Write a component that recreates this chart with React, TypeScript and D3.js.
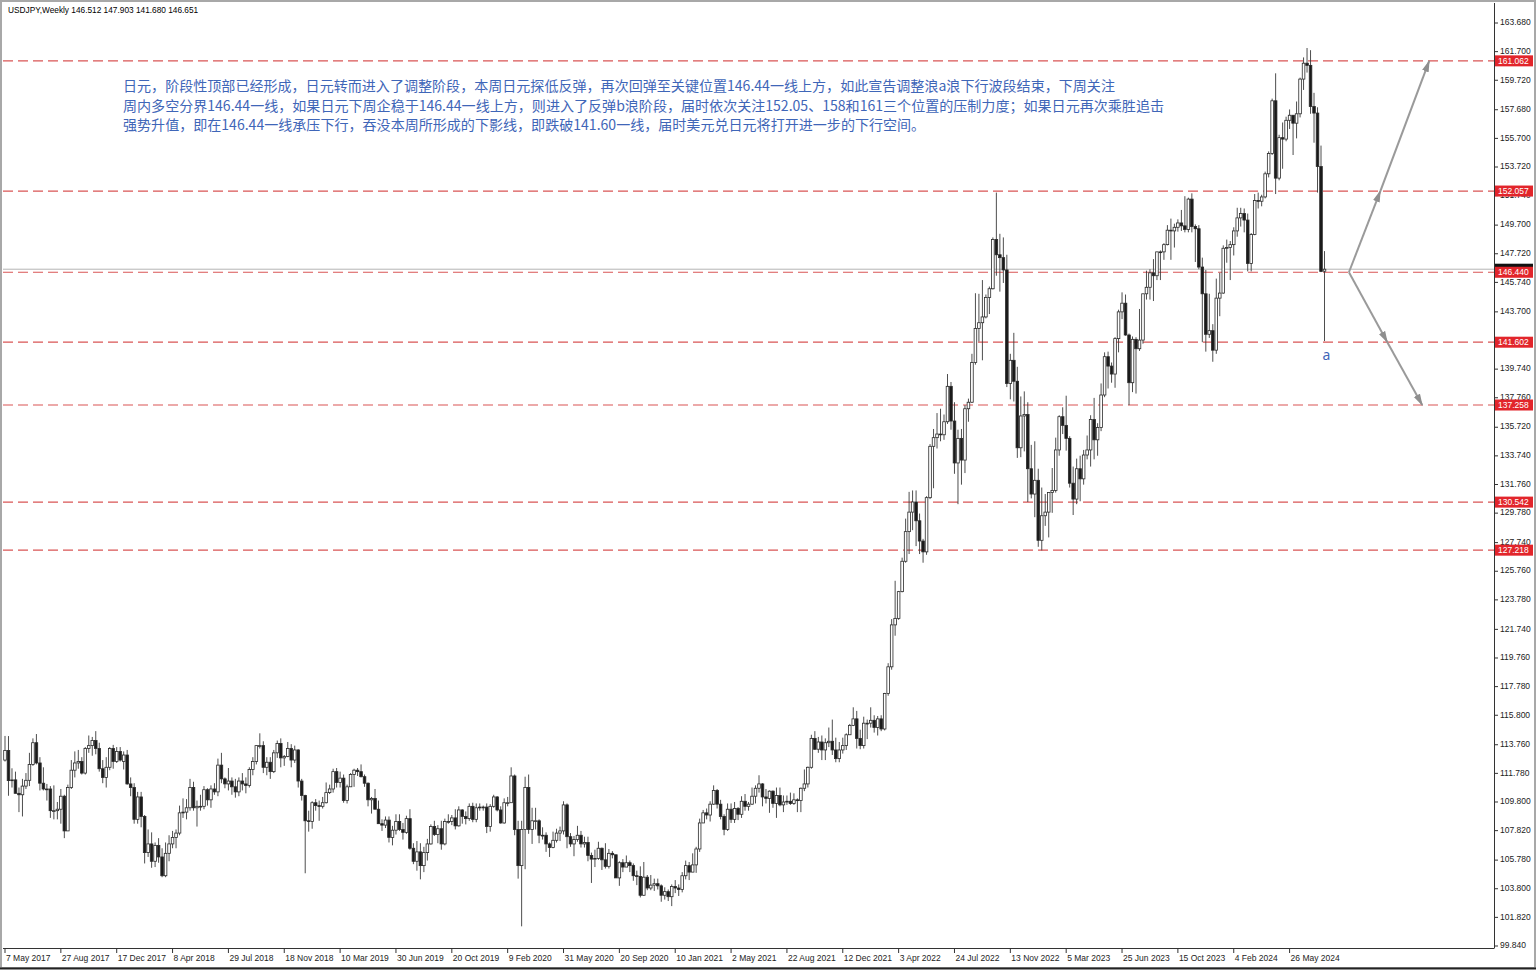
import { useEffect, useRef } from "react";
import * as d3 from "d3";

// weekly USDJPY candles [open, high, low, close], weeks start on Sunday
const w2017 = [
  [112.7, 114.37, 112.6, 113.36], [113.36, 114.36, 110.23, 111.28], [111.28, 112.13, 110.8, 111.33], [111.33, 111.9, 110.4, 110.4],
  [110.4, 110.8, 109.1, 110.3], [110.3, 111.4, 108.8, 110.9], [110.9, 111.8, 110.7, 111.3], [111.3, 113.2, 110.9, 112.4],
  [112.4, 114.2, 112.3, 113.9], [113.9, 114.5, 112.4, 112.5], [112.5, 112.9, 110.6, 111.1], [111.1, 112.2, 110.6, 110.7],
  [110.7, 111.05, 109.9, 110.7], [110.7, 110.9, 108.7, 109.2], [109.2, 110.95, 108.6, 109.2], [109.2, 109.8, 108.6, 109.3],
  [109.3, 110.7, 108.3, 110.2], [110.2, 110.3, 107.3, 107.8], [107.8, 111.0, 107.8, 110.8], [110.8, 112.7, 110.7, 112.0],
  [112.0, 113.3, 111.5, 112.5], [112.5, 113.4, 112.1, 112.6], [112.6, 112.9, 111.7, 111.8], [111.8, 113.6, 111.7, 113.5],
  [113.5, 114.4, 113.2, 113.7], [113.7, 114.3, 113.0, 114.05], [114.05, 114.7, 113.1, 113.5], [113.5, 113.9, 111.9, 112.1],
  [112.1, 112.7, 111.1, 111.5], [111.5, 112.9, 110.8, 112.2], [112.2, 113.6, 112.0, 113.5], [113.5, 113.75, 112.1, 112.6],
  [112.6, 113.6, 112.5, 113.3], [113.3, 113.6, 112.6, 112.7],
];
const w2018 = [
  [112.6, 113.3, 112.05, 113.05], [113.05, 113.4, 111.0, 111.05], [111.05, 111.5, 110.2, 110.8], [110.8, 111.1, 108.3, 108.6],
  [108.6, 110.5, 108.3, 110.15], [110.15, 110.5, 108.05, 108.8], [108.8, 108.9, 105.55, 106.3], [106.3, 107.9, 106.0, 106.9],
  [106.9, 107.7, 105.25, 105.7], [105.7, 107.0, 105.3, 106.8], [106.8, 107.3, 105.6, 106.0], [106.0, 106.6, 104.6, 104.7],
  [104.7, 107.0, 104.6, 106.25], [106.25, 107.5, 105.7, 106.9], [106.9, 107.8, 106.6, 107.35], [107.35, 107.9, 106.6, 107.65],
  [107.65, 109.55, 107.5, 109.05], [109.05, 110.05, 108.7, 109.1], [109.1, 110.0, 108.6, 109.4], [109.4, 111.4, 109.2, 110.8],
  [110.8, 111.2, 109.2, 109.4], [109.4, 109.9, 108.1, 109.5], [109.5, 110.3, 109.2, 109.5], [109.5, 110.9, 109.3, 110.65],
  [110.65, 110.75, 109.55, 109.95], [109.95, 110.95, 109.4, 110.7], [110.7, 111.1, 110.3, 110.5], [110.5, 112.8, 110.2, 112.35],
  [112.35, 113.2, 111.1, 111.4], [111.4, 111.5, 110.75, 111.05], [111.05, 112.15, 110.6, 111.25], [111.25, 111.5, 110.3, 110.85],
  [110.85, 111.4, 110.1, 110.5], [110.5, 111.5, 110.2, 111.25], [111.25, 111.8, 110.6, 111.05], [111.05, 111.5, 110.4, 110.95],
  [110.95, 112.2, 110.8, 112.05], [112.05, 112.9, 111.65, 112.6], [112.6, 113.7, 112.4, 113.7], [113.7, 114.55, 113.5, 113.7],
  [113.7, 114.0, 111.8, 112.2], [112.2, 112.9, 111.65, 112.55], [112.55, 112.9, 111.4, 111.9], [111.9, 113.4, 111.8, 113.2],
  [113.2, 114.05, 112.85, 113.85], [113.85, 114.2, 112.2, 112.85], [112.85, 113.05, 112.3, 112.95], [112.95, 113.95, 112.9, 113.5],
  [113.5, 113.8, 112.2, 112.7], [112.7, 113.7, 112.5, 113.4], [113.4, 113.45, 110.8, 111.25], [111.25, 111.4, 109.9, 110.25],
];
const w2019 = [
  [110.25, 110.3, 104.87, 108.5], [108.5, 109.2, 107.75, 108.45], [108.45, 109.85, 107.95, 109.75], [109.75, 110.0, 109.2, 109.55],
  [109.55, 109.9, 108.5, 109.5], [109.5, 110.15, 109.35, 109.75], [109.75, 111.15, 109.7, 110.45], [110.45, 111.0, 110.35, 110.7],
  [110.7, 112.1, 110.45, 111.9], [111.9, 112.15, 110.8, 111.15], [111.15, 111.9, 110.8, 111.45], [111.45, 111.7, 109.75, 109.9],
  [109.9, 111.0, 109.7, 110.85], [110.85, 111.8, 110.85, 111.7], [111.7, 112.1, 110.85, 112.0], [112.0, 112.15, 111.6, 111.9],
  [111.9, 112.4, 111.5, 111.55], [111.55, 111.7, 110.85, 111.1], [111.1, 111.15, 109.5, 109.95], [109.95, 110.15, 109.0, 110.05],
  [110.05, 110.7, 109.35, 109.3], [109.3, 109.9, 108.3, 108.3], [108.3, 108.6, 107.8, 108.2], [108.2, 108.8, 108.0, 108.55],
  [108.55, 108.8, 107.0, 107.35], [107.35, 108.15, 106.8, 107.85], [107.85, 108.95, 107.55, 108.45], [108.45, 108.95, 107.8, 107.9],
  [107.9, 108.35, 107.2, 107.7], [107.7, 108.85, 107.6, 108.65], [108.65, 109.3, 106.5, 106.6], [106.6, 106.95, 105.5, 105.7],
  [105.7, 107.1, 105.05, 106.35], [106.35, 106.95, 104.45, 105.4], [105.4, 106.7, 104.95, 106.3], [106.3, 107.25, 105.75, 106.9],
  [106.9, 108.25, 106.85, 108.1], [108.1, 108.5, 107.45, 107.55], [107.55, 108.2, 106.95, 107.95], [107.95, 108.5, 106.5, 106.9],
  [106.9, 108.65, 106.8, 108.45], [108.45, 108.95, 108.3, 108.45], [108.45, 108.9, 108.2, 108.7], [108.7, 109.3, 107.9, 108.15],
  [108.15, 109.5, 108.1, 109.25], [109.25, 109.3, 108.3, 108.8], [108.8, 109.15, 108.25, 108.65], [108.65, 109.7, 108.5, 109.5],
  [109.5, 109.75, 108.4, 108.6], [108.6, 109.7, 108.4, 109.4], [109.4, 109.7, 109.2, 109.45], [109.45, 109.55, 109.2, 109.45],
];
const w2020 = [
  [109.45, 109.7, 107.65, 108.1], [108.1, 109.65, 107.75, 109.5], [109.5, 110.3, 109.4, 110.15], [110.15, 110.2, 109.15, 109.25],
  [109.25, 109.5, 108.3, 108.35], [108.35, 110.05, 108.3, 109.75], [109.75, 110.15, 109.5, 109.75], [109.75, 112.2, 109.75, 111.6],
  [111.6, 111.7, 107.5, 107.9], [107.9, 108.5, 104.5, 105.4], [105.4, 108.5, 101.2, 107.9], [107.9, 111.55, 105.15, 110.8],
  [110.8, 111.7, 107.6, 107.9], [107.9, 109.4, 106.9, 108.5], [108.5, 109.4, 107.9, 108.5], [108.5, 108.6, 106.95, 107.5],
  [107.5, 108.05, 107.2, 107.5], [107.5, 107.7, 106.35, 106.9], [106.9, 107.0, 106.0, 106.65], [106.65, 107.75, 106.6, 107.15],
  [107.15, 107.95, 107.0, 107.65], [107.65, 108.1, 107.1, 107.8], [107.8, 109.85, 107.55, 109.6], [109.6, 109.7, 106.6, 107.4],
  [107.4, 107.65, 106.7, 106.9], [106.9, 107.45, 106.05, 107.2], [107.2, 108.15, 107.05, 107.5], [107.5, 107.8, 106.65, 106.9],
  [106.9, 107.4, 106.65, 107.0], [107.0, 107.4, 105.7, 106.1], [106.1, 106.3, 104.2, 105.85], [105.85, 106.5, 105.3, 105.9],
  [105.9, 107.05, 105.8, 106.6], [106.6, 106.65, 105.1, 105.8], [105.8, 106.95, 105.2, 105.35], [105.35, 106.55, 105.2, 106.25],
  [106.25, 106.4, 105.9, 106.15], [106.15, 106.15, 104.55, 104.55], [104.55, 105.7, 104.0, 105.6], [105.6, 105.85, 104.95, 105.3],
  [105.3, 106.1, 105.3, 105.6], [105.6, 105.75, 104.95, 105.4], [105.4, 105.55, 104.35, 104.7], [104.7, 105.05, 104.05, 104.65],
  [104.65, 105.35, 103.2, 103.35], [103.35, 105.65, 103.3, 104.6], [104.6, 104.75, 103.7, 103.85], [103.85, 104.75, 103.7, 104.05],
  [104.05, 104.5, 103.65, 104.15], [104.15, 104.5, 103.75, 104.0], [104.0, 104.1, 102.9, 103.35], [103.35, 103.9, 103.05, 103.6],
  [103.6, 103.75, 102.95, 103.25],
];
const w2021 = [
  [103.25, 104.1, 102.6, 103.95], [103.95, 104.4, 103.5, 103.85], [103.85, 104.1, 103.3, 103.75], [103.75, 104.95, 103.55, 104.7],
  [104.7, 105.75, 104.45, 105.4], [105.4, 105.65, 104.4, 104.95], [104.95, 106.25, 104.95, 105.45], [105.45, 106.7, 104.9, 106.55],
  [106.55, 108.65, 106.35, 108.35], [108.35, 109.25, 108.35, 109.05], [109.05, 109.35, 108.6, 108.9], [108.9, 109.85, 108.45, 109.65],
  [109.65, 110.95, 109.6, 110.6], [110.6, 110.7, 109.35, 109.65], [109.65, 109.95, 108.6, 108.8], [108.8, 108.95, 107.5, 107.9],
  [107.9, 109.7, 107.8, 109.3], [109.3, 109.7, 108.35, 108.6], [108.6, 109.8, 108.35, 109.35], [109.35, 109.45, 108.55, 108.95],
  [108.95, 110.2, 108.7, 109.85], [109.85, 110.35, 109.2, 109.5], [109.5, 109.8, 109.2, 109.65], [109.65, 110.8, 109.6, 110.2],
  [110.2, 110.95, 109.7, 110.75], [110.75, 111.65, 110.45, 111.05], [111.05, 111.1, 109.5, 110.15], [110.15, 110.7, 109.7, 110.05],
  [110.05, 110.6, 109.05, 110.55], [110.55, 110.6, 109.4, 109.7], [109.7, 110.8, 108.7, 110.25], [110.25, 110.8, 109.5, 109.6],
  [109.6, 110.25, 109.1, 109.8], [109.8, 110.25, 109.6, 109.85], [109.85, 110.45, 109.6, 109.7], [109.7, 110.4, 109.6, 109.95],
  [109.95, 110.05, 109.1, 109.9], [109.9, 110.8, 109.1, 110.75], [110.75, 112.05, 110.55, 111.05], [111.05, 112.25, 110.8, 112.2],
  [112.2, 114.45, 112.1, 114.2], [114.2, 114.7, 113.4, 113.45], [113.45, 114.3, 113.2, 113.95], [113.95, 114.4, 112.7, 113.4],
  [113.4, 114.2, 112.7, 113.9], [113.9, 114.95, 113.6, 114.0], [114.0, 115.5, 113.05, 113.4], [113.4, 114.25, 112.55, 112.8],
  [112.8, 113.95, 112.55, 113.4], [113.4, 114.25, 113.15, 113.7], [113.7, 114.55, 113.4, 114.45], [114.45, 115.2, 114.45, 115.1],
];
const w2022 = [
  [115.1, 116.35, 115.05, 115.55], [115.55, 116.1, 113.5, 114.2], [114.2, 114.8, 113.45, 113.7], [113.7, 115.7, 113.5, 115.25],
  [115.25, 115.5, 114.15, 115.25], [115.25, 116.35, 114.95, 115.45], [115.45, 115.8, 114.6, 114.95], [114.95, 115.75, 114.4, 115.55],
  [115.55, 115.8, 114.7, 114.85], [114.85, 117.35, 114.75, 117.3], [117.3, 119.4, 117.15, 119.15], [119.15, 122.45, 118.95, 122.05],
  [122.05, 125.1, 121.3, 122.5], [122.5, 124.4, 122.4, 124.35], [124.35, 126.7, 124.3, 126.45], [126.45, 129.4, 126.35, 128.5],
  [128.5, 131.25, 126.95, 129.85], [129.85, 131.35, 128.6, 130.55], [130.55, 131.35, 127.5, 129.25], [129.25, 129.75, 126.95, 127.85],
  [127.85, 128.0, 126.35, 127.1], [127.1, 130.95, 126.9, 130.85], [130.85, 134.55, 130.75, 134.4], [134.4, 135.6, 131.5, 135.0],
  [135.0, 136.7, 134.25, 135.25], [135.25, 137.0, 134.75, 135.2], [135.2, 136.6, 134.85, 136.1], [136.1, 139.4, 135.95, 138.55],
  [138.55, 138.85, 135.55, 136.15], [136.15, 137.45, 132.5, 133.25], [133.25, 135.55, 130.4, 134.95], [134.95, 135.6, 131.75, 133.45],
  [133.45, 137.25, 132.55, 137.0], [137.0, 137.7, 136.1, 137.45], [137.45, 140.8, 137.4, 140.2], [140.2, 144.99, 140.05, 142.55],
  [142.55, 144.95, 141.65, 142.95], [142.95, 145.9, 140.35, 143.35], [143.35, 144.9, 143.25, 144.7], [144.7, 145.45, 143.55, 145.3],
  [145.3, 148.85, 145.25, 148.7], [148.7, 151.95, 146.2, 147.65], [147.65, 149.1, 145.1, 147.45], [147.45, 148.85, 145.7, 146.6],
  [146.6, 147.65, 138.5, 138.75], [138.75, 140.8, 137.65, 140.35], [140.35, 142.25, 137.5, 138.9], [138.9, 139.9, 133.6, 134.3],
  [134.3, 137.85, 133.65, 136.5], [136.5, 138.2, 134.05, 136.6], [136.6, 137.45, 130.55, 132.85], [132.85, 134.5, 130.8, 131.1],
];
const w2023 = [
  [131.1, 134.75, 129.5, 132.05], [132.05, 132.85, 127.45, 127.9], [127.9, 131.55, 127.2, 129.6], [129.6, 131.1, 128.9, 129.85],
  [129.85, 131.2, 128.1, 131.2], [131.2, 132.9, 129.8, 131.35], [131.35, 135.0, 131.2, 134.15], [134.15, 136.55, 133.75, 136.45],
  [136.45, 137.1, 135.25, 135.85], [135.85, 137.9, 134.1, 134.95], [134.95, 135.1, 131.55, 131.85], [131.85, 133.0, 129.65, 130.75],
  [130.75, 133.55, 130.4, 132.85], [132.85, 133.75, 130.6, 132.15], [132.15, 134.15, 131.75, 133.8], [133.8, 135.15, 133.5, 134.15],
  [134.15, 136.55, 133.0, 136.25], [136.25, 137.75, 133.5, 134.85], [134.85, 136.0, 133.75, 135.7], [135.7, 138.75, 135.45, 137.95],
  [137.95, 140.9, 137.8, 140.6], [140.6, 140.95, 138.4, 139.95], [139.95, 140.2, 138.8, 139.4], [139.4, 141.95, 138.45, 141.85],
  [141.85, 143.85, 140.9, 143.7], [143.7, 145.05, 143.2, 144.3], [144.3, 144.9, 142.05, 142.1], [142.1, 142.2, 137.25, 138.8],
  [138.8, 142.0, 138.15, 141.8], [141.8, 141.95, 138.05, 141.15], [141.15, 143.9, 141.0, 141.75], [141.75, 144.95, 141.5, 144.95],
  [144.95, 146.55, 144.55, 145.4], [145.4, 146.65, 144.55, 146.4], [146.4, 147.35, 144.45, 146.2], [146.2, 147.85, 145.9, 147.85],
  [147.85, 147.95, 145.9, 147.85], [147.85, 148.45, 147.3, 148.35], [148.35, 149.7, 148.3, 149.35], [149.35, 150.15, 147.3, 149.3],
  [149.3, 149.8, 148.15, 149.55], [149.55, 150.1, 149.25, 149.85], [149.85, 150.75, 149.3, 149.65], [149.65, 151.7, 149.2, 149.4],
  [149.4, 151.6, 149.2, 151.5], [151.5, 151.9, 149.2, 149.6], [149.6, 149.75, 147.15, 149.45], [149.45, 149.7, 146.65, 146.8],
  [146.8, 147.45, 141.6, 144.95], [144.95, 146.6, 140.95, 142.15], [142.15, 144.95, 141.9, 142.4], [142.4, 142.85, 140.25, 141.05],
];
const w2024 = [
  [141.05, 146.0, 140.8, 144.65], [144.65, 146.4, 143.4, 145.0], [145.0, 148.3, 144.95, 148.1], [148.1, 148.7, 147.1, 148.15],
  [148.15, 148.6, 145.9, 148.35], [148.35, 149.55, 147.6, 149.3], [149.3, 150.9, 148.9, 150.2], [150.2, 150.9, 149.6, 150.5],
  [150.5, 150.85, 149.2, 150.05], [150.05, 150.5, 146.5, 147.05], [147.05, 149.15, 146.5, 149.05], [149.05, 151.85, 149.0, 151.4],
  [151.4, 151.95, 150.85, 151.35], [151.35, 151.8, 151.0, 151.65], [151.65, 153.4, 151.55, 153.25], [153.25, 154.8, 153.0, 154.65],
  [154.65, 158.45, 154.55, 158.3], [158.3, 160.2, 151.85, 152.95], [152.95, 155.95, 152.8, 155.75], [155.75, 156.8, 153.6, 155.65],
  [155.65, 157.2, 155.5, 156.95], [156.95, 157.7, 156.35, 157.3], [157.3, 157.3, 154.55, 156.75], [156.75, 158.25, 155.7, 157.4],
  [157.4, 159.9, 157.15, 159.8], [159.8, 161.3, 159.05, 160.9], [160.9, 161.95, 160.25, 160.75], [160.75, 161.8, 157.4, 157.9],
  [157.9, 158.85, 155.4, 157.45], [157.45, 157.85, 151.95, 153.75], [153.75, 155.2, 146.45, 146.5], [146.512, 147.903, 141.68, 146.651],
];

const title = "USDJPY,Weekly  146.512 147.903 141.680 146.651";
const noteLines = [
  "日元，阶段性顶部已经形成，日元转而进入了调整阶段，本周日元探低反弹，再次回弹至关键位置146.44一线上方，如此宣告调整浪a浪下行波段结束，下周关注",
  "周内多空分界146.44一线，如果日元下周企稳于146.44一线上方，则进入了反弹b浪阶段，届时依次关注152.05、158和161三个位置的压制力度；如果日元再次乘胜追击",
  "强势升值，即在146.44一线承压下行，吞没本周所形成的下影线，即跌破141.60一线，届时美元兑日元将打开进一步的下行空间。",
];
const levels = [161.062, 152.057, 146.44, 141.602, 137.258, 130.542, 127.218];
const bidPrice = 146.651;
const priceTicks = [
  163.68, 161.7, 159.72, 157.68, 155.7, 153.72, 151.74, 149.7, 147.72, 145.74, 143.7, 141.72, 139.74, 137.76, 135.72, 133.74,
  131.76, 129.78, 127.74, 125.76, 123.78, 121.74, 119.76, 117.78, 115.8, 113.76, 111.78, 109.8, 107.82, 105.78, 103.8, 101.82, 99.84,
];
const dateLabels = [
  "7 May 2017", "27 Aug 2017", "17 Dec 2017", "8 Apr 2018", "29 Jul 2018", "18 Nov 2018", "10 Mar 2019", "30 Jun 2019",
  "20 Oct 2019", "9 Feb 2020", "31 May 2020", "20 Sep 2020", "10 Jan 2021", "2 May 2021", "22 Aug 2021", "12 Dec 2021",
  "3 Apr 2022", "24 Jul 2022", "13 Nov 2022", "5 Mar 2023", "25 Jun 2023", "15 Oct 2023", "4 Feb 2024", "26 May 2024",
];
// projected path: [week index, price]
const arrowUp = [[385, 146.44], [394, 152.057], [408, 161.062]];
const arrowDown = [[385, 146.44], [396, 141.602], [406, 137.258]];
const waveLabel = { week: 378, price: 140.6, text: "a" };

const weekDate = (i: number) => new Date(2017, 4, 7 + 7 * i);

export default function App() {
  const svgRef = useRef<SVGSVGElement>(null);

  useEffect(() => {
    if (!svgRef.current) return;
    const svg = d3.select(svgRef.current);
    svg.selectAll("*").remove();

    const width = 1536;
    const height = 970;
    const plot = { left: 3, right: 1494, top: 3, bottom: 948 };
    const font = "'Liberation Sans', Arial, sans-serif";
    const blue = "#3f66b8";

    const candles = [...w2017, ...w2018, ...w2019, ...w2020, ...w2021, ...w2022, ...w2023, ...w2024].map((d, i) => ({
      date: weekDate(i),
      o: d[0],
      h: d[1],
      l: d[2],
      c: d[3],
    }));

    const x = d3.scaleTime().domain([weekDate(0), weekDate(candles.length - 1)]).range([5, 1324.5]);
    const y = d3.scaleLinear().domain([99.84, 163.68]).range([946, 23]);

    svg.append("rect").attr("width", width).attr("height", height).attr("fill", "#fff");

    // outer frame
    svg.append("rect").attr("x", 1).attr("y", 1).attr("width", width - 2).attr("height", height - 3)
      .attr("fill", "none").attr("stroke", "#a8a8a8").attr("stroke-width", 2);
    svg.append("line").attr("x1", 0).attr("x2", width).attr("y1", 968.5).attr("y2", 968.5)
      .attr("stroke", "#222").attr("stroke-width", 2);

    svg.append("defs").append("clipPath").attr("id", "plotClip").append("rect")
      .attr("x", plot.left).attr("y", plot.top)
      .attr("width", plot.right - plot.left).attr("height", plot.bottom - plot.top);

    const g = svg.append("g").attr("clip-path", "url(#plotClip)");

    // bid line
    g.append("line").attr("x1", plot.left).attr("x2", plot.right)
      .attr("y1", y(bidPrice)).attr("y2", y(bidPrice))
      .attr("stroke", "#b5b5b5").attr("stroke-width", 1);

    // level lines
    g.selectAll(".level").data(levels).enter().append("line")
      .attr("x1", plot.left).attr("x2", plot.right)
      .attr("y1", (d) => y(d)).attr("y2", (d) => y(d))
      .attr("stroke", "#d95555").attr("stroke-width", 1.2).attr("stroke-dasharray", "10,5");

    // candles
    const bw = 2.6;
    const cg = g.append("g");
    cg.selectAll(".wick").data(candles).enter().append("line")
      .attr("x1", (d) => x(d.date)).attr("x2", (d) => x(d.date))
      .attr("y1", (d) => y(Math.max(d.h, d.o, d.c))).attr("y2", (d) => y(Math.min(d.l, d.o, d.c)))
      .attr("stroke", "#3a3a3a").attr("stroke-width", 0.9);
    cg.selectAll(".body").data(candles).enter().append("rect")
      .attr("x", (d) => x(d.date) - bw / 2)
      .attr("y", (d) => y(Math.max(d.o, d.c)))
      .attr("width", bw)
      .attr("height", (d) => Math.max(0.8, Math.abs(y(d.o) - y(d.c))))
      .attr("fill", (d) => (d.c >= d.o ? "#fff" : "#1a1a1a"))
      .attr("stroke", "#2a2a2a").attr("stroke-width", 0.8);

    // projection arrows
    const marker = svg.select("defs").append("marker").attr("id", "arrowHead")
      .attr("viewBox", "0 0 12 8").attr("refX", 11).attr("refY", 4)
      .attr("markerWidth", 12).attr("markerHeight", 8).attr("markerUnits", "userSpaceOnUse")
      .attr("orient", "auto");
    marker.append("path").attr("d", "M0,0.5 L12,4 L0,7.5 Z").attr("fill", "#8e8e8e");

    [arrowUp, arrowDown].forEach((path) => {
      for (let k = 0; k < path.length - 1; k++) {
        g.append("line")
          .attr("x1", x(weekDate(path[k][0]))).attr("y1", y(path[k][1]))
          .attr("x2", x(weekDate(path[k + 1][0]))).attr("y2", y(path[k + 1][1]))
          .attr("stroke", "#9a9a9a").attr("stroke-width", 2)
          .attr("marker-end", "url(#arrowHead)");
      }
    });

    // wave label
    g.append("text").attr("x", x(weekDate(waveLabel.week)) + 2).attr("y", y(waveLabel.price))
      .attr("text-anchor", "middle").attr("dominant-baseline", "middle")
      .attr("font-family", "'Noto Sans', sans-serif").attr("font-size", 14).attr("fill", blue)
      .text(waveLabel.text);

    // commentary
    noteLines.forEach((line, i) => {
      g.append("text").attr("x", 123).attr("y", 91 + i * 19.6)
        .attr("font-family", "'Noto Sans CJK SC', sans-serif").attr("font-size", 14.05)
        .attr("fill", blue).text(line);
    });

    // title
    svg.append("text").attr("x", 8).attr("y", 13)
      .attr("font-family", font).attr("font-size", 8.3).attr("fill", "#000").text(title);

    // plot borders
    svg.append("line").attr("x1", plot.right + 0.5).attr("x2", plot.right + 0.5)
      .attr("y1", plot.top).attr("y2", plot.bottom).attr("stroke", "#333");
    svg.append("line").attr("x1", plot.left).attr("x2", plot.right + 0.5)
      .attr("y1", plot.bottom + 0.5).attr("y2", plot.bottom + 0.5).attr("stroke", "#333");

    // price axis
    const ya = svg.append("g");
    priceTicks.forEach((p) => {
      ya.append("line").attr("x1", plot.right).attr("x2", plot.right + 4)
        .attr("y1", y(p)).attr("y2", y(p)).attr("stroke", "#333");
      ya.append("text").attr("x", plot.right + 6).attr("y", y(p))
        .attr("dominant-baseline", "middle").attr("font-family", font).attr("font-size", 8.5)
        .attr("fill", "#222").text(p.toFixed(3));
    });

    // bid label then level labels
    ya.append("rect").attr("x", plot.right + 1).attr("y", y(bidPrice) - 5.5)
      .attr("width", 38).attr("height", 11).attr("fill", "#111");
    levels.forEach((p) => {
      ya.append("rect").attr("x", plot.right + 1).attr("y", y(p) - 5.5)
        .attr("width", 38).attr("height", 11).attr("fill", "#e2252b");
      ya.append("text").attr("x", plot.right + 4).attr("y", y(p) + 0.5)
        .attr("dominant-baseline", "middle").attr("font-family", font).attr("font-size", 8.5)
        .attr("fill", "#fff").text(p.toFixed(3));
    });

    // time axis
    const xa = svg.append("g");
    dateLabels.forEach((lab, k) => {
      const px = x(weekDate(16 * k));
      xa.append("line").attr("x1", px).attr("x2", px)
        .attr("y1", plot.bottom).attr("y2", plot.bottom + 5).attr("stroke", "#333");
      xa.append("text").attr("x", px + 1).attr("y", 961)
        .attr("font-family", font).attr("font-size", 8.5).attr("fill", "#222").text(lab);
    });
  }, []);

  return (
    <svg
      ref={svgRef}
      width={1536}
      height={970}
      style={{ display: "block", position: "absolute", left: 0, top: 0 }}
    />
  );
}
